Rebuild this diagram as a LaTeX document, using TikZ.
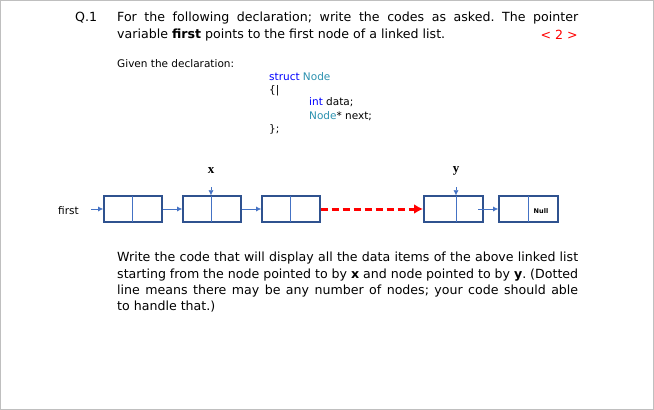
\documentclass[tikz,border=0pt]{standalone}
\usepackage{fontspec}
\setmainfont{DejaVu Sans}
\newfontfamily\serifx{Liberation Serif}
\usetikzlibrary{arrows.meta}
\definecolor{lb}{RGB}{68,114,196}
\definecolor{bx}{RGB}{47,82,143}
\definecolor{kw}{RGB}{0,0,255}
\definecolor{ty}{RGB}{43,145,175}
\begin{document}
\frenchspacing
\begin{tikzpicture}[x=1pt,y=-1pt,
  txt/.style={anchor=west,inner sep=0pt,font=\fontsize{12.6}{15}\selectfont},
  sm/.style={anchor=west,inner sep=0pt,font=\fontsize{10.5}{12}\selectfont},
  cell/.style={draw=bx,line width=1.5pt,minimum width=#1,minimum height=26pt,inner sep=0pt},
  ptr/.style={draw=lb,-{Latex[length=5pt,width=5pt]}},
  lab/.style={font=\serifx\bfseries\fontsize{13}{14}\selectfont,inner sep=0pt}]
\useasboundingbox (0,0) rectangle (654,410);
\draw[gray!50] (0.5,0.5) rectangle (653.5,409.5);
\node[txt] (q) at (75,18) {Q.1};
\node[txt] (l1) at (117,18) {\hbox to 461pt{For the following declaration; write the codes as asked. The pointer}};
\node[txt] (l2) at (117,35) {variable \textbf{first} points to the first node of a linked list.};
\node[txt,text=red,anchor=east] (mk) at (578,35) {< 2 >};
\node[sm] (g) at (117,64) {Given the declaration:};
\node[sm] (c1) at (269,77) {\textcolor{kw}{struct} \textcolor{ty}{Node}};
\node[sm] (c2) at (269,91) {\{|};
\node[sm] (c3) at (309,102) {\textcolor{kw}{int} data;};
\node[sm] (c4) at (309,116) {\textcolor{ty}{Node}* next;};
\node[sm] (c5) at (269,129) {\};};
% boxes
\foreach \n/\a/\b in {1/103/161,2/182/240,3/261/319,4/423/482,5/498/557}{
  \node[cell=(\b-\a)*1pt,anchor=west] (b\n) at (\a,209) {};
}
\foreach \n/\d in {1/132,2/211,3/290,4/456,5/528}{
  \draw[lb,line width=0.8pt] (\d,196) coordinate (d\n) -- (\d,222);
}
\node[sm] (first) at (58,211) {first};
\coordinate (fs) at (91,209);
\draw[ptr] (fs) -- (b1.west);
\draw[ptr] (b1.east) -- (b2.west);
\draw[ptr] (b2.east) -- (b3.west);
\draw[red,line width=3pt,dash pattern=on 7pt off 4pt] (b3.east) -- ([xshift=-9pt]b4.west);
\draw[red,-{Latex[length=9pt,width=10pt]},line width=3pt] ([xshift=-10pt]b4.west) -- (b4.west);
\coordinate (ys) at (478,209);
\draw[ptr] (ys) -- (b5.west);
\node[inner sep=0pt,font=\bfseries\fontsize{6.5}{7}\selectfont] (nl) at (541,211) {Null};
\node[lab] (x) at (211,171) {x};
\node[lab] (y) at (456,171) {y};
\coordinate (xs) at (211,187);
\coordinate (yt) at (456,187);
\draw[ptr] (xs) -- (b2.north -| xs);
\draw[ptr] (yt) -- (b4.north -| yt);
\node[txt] (p1) at (117,258) {\hbox to 461pt{Write the code that will display all the data items of the above linked list}};
\node[txt] (p2) at (117,275) {\hbox to 461pt{starting from the node pointed to by \textbf{x} and node pointed to by \textbf{y}. (Dotted}};
\node[txt] (p3) at (117,291) {\hbox to 461pt{line means there may be any number of nodes; your code should able}};
\node[txt] (p4) at (117,307) {to handle that.)};
\end{tikzpicture}
\end{document}
